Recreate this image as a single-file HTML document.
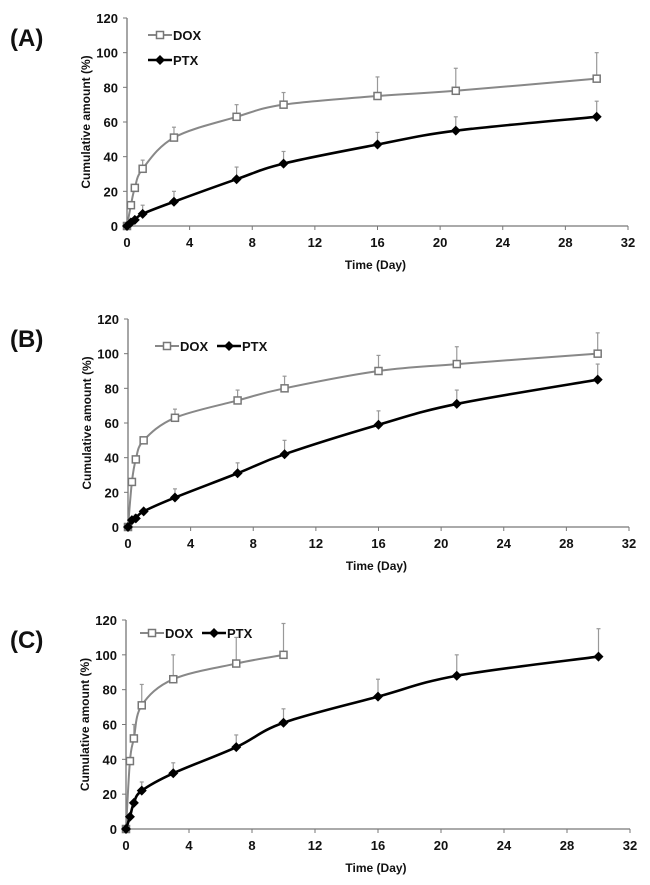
<!DOCTYPE html>
<html><head><meta charset="utf-8"><style>
html,body{margin:0;padding:0;background:#fff;width:650px;height:885px;overflow:hidden}
svg text{font-family:"Liberation Sans",Arial,sans-serif;font-weight:bold;fill:#111}
</style></head><body>
<svg id="c" width="650" height="885"></svg>
<script>
const xTicks=[0,4,8,12,16,20,24,28,32];
const yTicks=[0,20,40,60,80,100,120];
const tA=[0,0.25,0.5,1,3,7,10,16,21,30];
const doxA=[0,12,22,33,51,63,70,75,78,85];
const doxAErr=[0,0,0,5,6,7,7,11,13,15];
const ptxA=[0,2,3.5,7,14,27,36,47,55,63];
const ptxAErr=[0,0,0,5,6,7,7,7,8,9];
const tB=[0,0.25,0.5,1,3,7,10,16,21,30];
const doxB=[0,26,39,50,63,73,80,90,94,100];
const doxBErr=[0,0,0,0,5,6,7,9,10,12];
const ptxB=[0,4,5,9,17,31,42,59,71,85];
const ptxBErr=[0,0,2,0,5,6,8,8,8,9];
const tCdox=[0,0.25,0.5,1,3,7,10];
const doxC=[0,39,52,71,86,95,100];
const doxCErr=[0,0,8,12,14,15,18];
const tC=[0,0.25,0.5,1,3,7,10,16,21,30];
const ptxC=[0,7,15,22,32,47,61,76,88,99];
const ptxCErr=[0,0,0,5,6,7,8,10,12,16];

const NS="http://www.w3.org/2000/svg";
const svg=document.getElementById('c');
function mk(tag,attrs,parent){const e=document.createElementNS(NS,tag);for(const k in attrs)e.setAttribute(k,attrs[k]);(parent||svg).appendChild(e);return e;}
function txt(s,attrs,parent){const e=mk('text',attrs,parent);e.textContent=s;return e;}

const panels=[
 {lab:'(A)',x0:127,x1:628,y0:226,y1:18,ds:[[tA,doxA,doxAErr,'dox'],[tA,ptxA,ptxAErr,'ptx']],leg:'v',lx:148,ly:35,gap:0},
 {lab:'(B)',x0:128,x1:629,y0:527,y1:319,ds:[[tB,doxB,doxBErr,'dox'],[tB,ptxB,ptxBErr,'ptx']],leg:'h',lx:155,ly:346,gap:62},
 {lab:'(C)',x0:126,x1:630,y0:829,y1:620,ds:[[tCdox,doxC,doxCErr,'dox'],[tC,ptxC,ptxCErr,'ptx']],leg:'h',lx:140,ly:633,gap:62}
];
function smooth(p){let d='M'+p[0][0]+','+p[0][1];for(let i=0;i<p.length-1;i++){const a=p[i-1]||p[i],b=p[i],c=p[i+1],e=p[i+2]||c;const k=0.17;d+=' C'+(b[0]+(c[0]-a[0])*k)+','+(b[1]+(c[1]-a[1])*k)+' '+(c[0]-(e[0]-b[0])*k)+','+(c[1]-(e[1]-b[1])*k)+' '+c[0]+','+c[1];}return d;}
function marker(kind,x,y,g){
 if(kind==='dox'){const m=mk('rect',{x:x-3.5,y:y-3.5,width:7,height:7,fill:'#fff',stroke:'#777','stroke-width':1.5},g);}
 else{const m=mk('polygon',{points:`${x},${y-5} ${x+5},${y} ${x},${y+5} ${x-5},${y}`,fill:'#000'},g);}
}
panels.forEach((P,pi)=>{
 const g=mk('g',{});
 
 
 const sx=v=>P.x0+(P.x1-P.x0)*v/32, sy=v=>P.y0+(P.y1-P.y0)*v/120;
 const pl=txt(P.lab,{x:10,y:P.y1+28,'font-size':24},g);
 
 mk('line',{x1:P.x0,y1:P.y0,x2:P.x1,y2:P.y0,stroke:'#777','stroke-width':1.3},g);
 mk('line',{x1:P.x0,y1:P.y0,x2:P.x0,y2:P.y1,stroke:'#777','stroke-width':1.3},g);
 xTicks.forEach(v=>{mk('line',{x1:sx(v),y1:P.y0,x2:sx(v),y2:P.y0+4,stroke:'#777'},g);const t=txt(v,{x:sx(v),y:P.y0+21,'font-size':13,'text-anchor':'middle'},g);});
 yTicks.forEach(v=>{mk('line',{x1:P.x0-4,y1:sy(v),x2:P.x0,y2:sy(v),stroke:'#777'},g);const t=txt(v,{x:P.x0-9,y:sy(v)+5,'font-size':13,'text-anchor':'end'},g);});
 const xt=txt('Time (Day)',{x:(P.x0+P.x1)/2-2,y:P.y0+43,'font-size':12,'text-anchor':'middle'},g);
 
 const yc=(P.y0+P.y1)/2;
 const yt=txt('Cumulative amount (%)',{x:0,y:0,'font-size':12,'text-anchor':'middle',transform:`translate(${P.x0-37},${yc}) rotate(-90)`},g);
 
 P.ds.forEach(([t,v,e,kind])=>{
  const col=kind==='dox'?'#888':'#000';
  t.forEach((ti,i)=>{if(e[i]>0){mk('line',{x1:sx(ti),y1:sy(v[i]),x2:sx(ti),y2:sy(v[i]+e[i]),stroke:'#999','stroke-width':1.2},g);mk('line',{x1:sx(ti)-2,y1:sy(v[i]+e[i]),x2:sx(ti)+2,y2:sy(v[i]+e[i]),stroke:'#999','stroke-width':1.2},g);}});
  const pts=t.map((ti,i)=>[sx(ti),sy(v[i])]);
  const ln=mk('path',{d:smooth(pts),fill:'none',stroke:col,'stroke-width':kind==='dox'?2:2.6},g);
  
  pts.forEach(p=>marker(kind,p[0],p[1],g));
 });
 const legs=P.leg==='v'?[['dox','DOX',P.lx,P.ly],['ptx','PTX',P.lx,P.ly+25]]:[['dox','DOX',P.lx,P.ly],['ptx','PTX',P.lx+P.gap,P.ly]];
 legs.forEach(([k,n,x,y])=>{
  const lg=mk('g',{},g);
  
  mk('line',{x1:x,y1:y,x2:x+24,y2:y,stroke:k==='dox'?'#888':'#000','stroke-width':k==='dox'?2:2.6},lg);
  marker(k,x+12,y,lg);
  txt(n,{x:x+25,y:y+5,'font-size':13},lg);
 });
});
</script>
</body></html>
